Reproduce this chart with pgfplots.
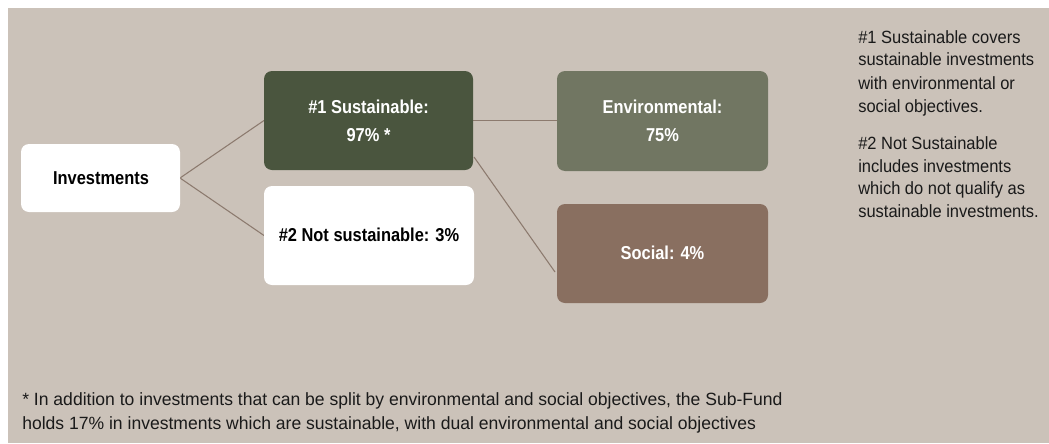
\documentclass[border=0pt]{standalone}
\usepackage{pgfplots}
\pgfplotsset{compat=1.18}
\usepackage{fontspec}
\setmainfont{Liberation Sans}
\newfontfamily\reg{Liberation Sans}[FakeStretch=0.93]
\newfontfamily\foot{Liberation Sans}[FakeStretch=0.99]
\newfontfamily\bx{Liberation Sans}[FakeStretch=0.88]
\definecolor{bg}{HTML}{CBC2B9}
\definecolor{dgreen}{HTML}{4A553E}
\definecolor{egreen}{HTML}{717662}
\definecolor{social}{HTML}{896F60}
\definecolor{linec}{HTML}{8C7A6E}
\definecolor{txt}{HTML}{1A1A1A}
\begin{document}
\begin{tikzpicture}
\begin{axis}[hide axis, scale only axis, width=786.75pt, height=332.25pt,
  xmin=0, xmax=1049, ymin=0, ymax=443, y dir=reverse, clip=false]
% background
\addplot[draw=none, fill=white, mark=none] coordinates {(0,0) (1049,0) (1049,443) (0,443)} -- cycle;
\addplot[draw=none, fill=bg, mark=none] coordinates {(8,8) (1049,8) (1049,443) (8,443)} -- cycle;
% connectors
\addplot[linec, line width=0.8pt, mark=none] coordinates {(264,120.5) (180,178) (264,235.5)};
\addplot[linec, line width=0.8pt, mark=none] coordinates {(473,120.5) (557,120.5)};
\addplot[linec, line width=0.8pt, mark=none] coordinates {(474,157) (555,272)};
% boxes
\addplot[draw=none, fill=white, rounded corners=6pt, mark=none] coordinates {(21,178) (21,144) (180,144) (180,212) (21,212)} -- cycle;
\addplot[draw=none, fill=dgreen, rounded corners=6pt, mark=none] coordinates {(264,120.5) (264,71) (473,71) (473,170) (264,170)} -- cycle;
\addplot[draw=none, fill=white, rounded corners=6pt, mark=none] coordinates {(264,235.5) (264,186) (474,186) (474,285) (264,285)} -- cycle;
\addplot[draw=none, fill=egreen, rounded corners=6pt, mark=none] coordinates {(557,120.5) (557,71) (768,71) (768,171) (557,171)} -- cycle;
\addplot[draw=none, fill=social, rounded corners=6pt, mark=none] coordinates {(557,253.5) (557,204) (768,204) (768,303) (557,303)} -- cycle;
% box texts
\begin{scope}[every node/.style={anchor=base, font=\bx\bfseries\fontsize{14}{16}\selectfont, inner sep=0pt}]
\node[text=black] at (axis cs:101,184.5) {Investments};
\node[text=white] at (axis cs:368.5,113.5) {\#1 Sustainable:};
\node[text=white] at (axis cs:368.5,141.5) {97\% *};
\node[text=black] at (axis cs:369,241.5) {\#2 Not sustainable: 3\%};
\node[text=white] at (axis cs:662.5,113.5) {Environmental:};
\node[text=white] at (axis cs:662.5,141.5) {75\%};
\node[text=white] at (axis cs:662.5,259.5) {Social: 4\%};
\end{scope}
% side notes
\begin{scope}[every node/.style={anchor=base west, font=\reg\fontsize{13.3}{16}\selectfont, inner sep=0pt, text=txt}]
\node at (axis cs:858,43) {\#1 Sustainable covers};
\node at (axis cs:858,65.5) {sustainable investments};
\node at (axis cs:858,89) {with environmental or};
\node at (axis cs:858,112) {social objectives.};
\node at (axis cs:858,149.5) {\#2 Not Sustainable};
\node at (axis cs:858,172.5) {includes investments};
\node at (axis cs:858,194.5) {which do not qualify as};
\node at (axis cs:858,217.5) {sustainable investments.};
\end{scope}
\begin{scope}[every node/.style={anchor=base west, font=\foot\fontsize{13.3}{16}\selectfont, inner sep=0pt, text=txt}]
\node at (axis cs:22,405.5) {* In addition to investments that can be split by environmental and social objectives, the Sub-Fund};
\node at (axis cs:22,429) {holds 17\% in investments which are sustainable, with dual environmental and social objectives};
\end{scope}
\end{axis}
\end{tikzpicture}
\end{document}
